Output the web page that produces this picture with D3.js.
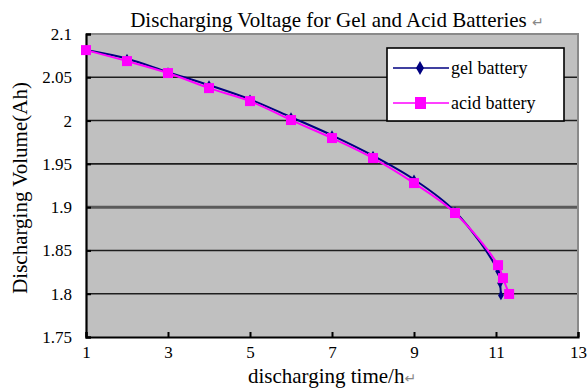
<!DOCTYPE html>
<html>
<head>
<meta charset="utf-8">
<script src="https://cdn.jsdelivr.net/npm/d3@7"></script>
<style>
  body { margin: 0; background: #fff; }
  svg { display: block; }
  svg text { font-family: "Liberation Serif", "Times New Roman", serif; }
</style>
</head>
<body>
<svg id="chart" width="587" height="390"></svg>
<script>
// data
var gelTime = [1, 2, 3, 4, 5, 6, 7, 8, 9, 10, 11.05, 11.1, 11.12];
var gelVolt = [2.0814, 2.0715, 2.056, 2.041, 2.0245, 2.004, 1.983, 1.9595, 1.932, 1.895, 1.826, 1.812, 1.798];
var acidTime = [1, 2, 3, 4, 5, 6, 7, 8, 9, 10, 11.05, 11.17, 11.32];
var acidVolt = [2.0814, 2.0687, 2.0549, 2.0375, 2.0225, 2.0006, 1.9798, 1.9567, 1.9278, 1.8932, 1.833, 1.818, 1.7997];
var xTicks = [1, 3, 5, 7, 9, 11, 13];
var yTicks = [1.75, 1.8, 1.85, 1.9, 1.95, 2, 2.05, 2.1];
var seriesNames = ["gel battery", "acid battery"];

var serif = "'Liberation Serif', 'Times New Roman', serif";
var svg = d3.select("#chart");

var plotL = 86, plotR = 578, plotT = 34, plotB = 337;

var x = d3.scaleLinear().domain([1, 13]).range([plotL, plotR]);
var y = d3.scaleLinear().domain([1.75, 2.1]).range([plotB, plotT]);

// plot area
svg.append("rect")
  .attr("x", plotL).attr("y", plotT)
  .attr("width", plotR - plotL).attr("height", plotB - plotT)
  .style("fill", "#c0c0c0");

// grid lines
svg.append("g").selectAll("line")
  .data(yTicks.filter(function(d) { return d > 1.75 && d < 2.1; }))
  .enter().append("line")
  .attr("x1", plotL).attr("x2", plotR)
  .attr("y1", function(d) { return y(d); })
  .attr("y2", function(d) { return y(d); })
  .style("stroke", function(d) { return Math.abs(d - 1.9) < 1e-6 ? "#5a5a5a" : "#1e1e1e"; })
  .style("stroke-width", function(d) { return Math.abs(d - 1.9) < 1e-6 ? 3 : 1.6; });

// top / right frame (grey)
svg.append("path")
  .attr("d", "M" + plotL + "," + plotT + "H" + plotR + "V" + plotB)
  .style("fill", "none").style("stroke", "#8a8a8a").style("stroke-width", 2);

// axes
var xAxis = d3.axisBottom(x).tickValues(xTicks).tickSize(-5).tickPadding(9).tickFormat(d3.format("d"));
var gx = svg.append("g").attr("transform", "translate(0," + plotB + ")").call(xAxis);
var yAxis = d3.axisLeft(y).tickValues(yTicks).tickSize(-5).tickPadding(14).tickFormat(function(d) { return String(+d.toFixed(2)); });
var gy = svg.append("g").attr("transform", "translate(" + plotL + ",0)").call(yAxis);

[gx, gy].forEach(function(g) {
  g.attr("font-family", serif).attr("font-size", 17);
  g.select(".domain").style("stroke", "#000").style("stroke-width", 2.2);
  g.selectAll(".tick line").style("stroke", "#000").style("stroke-width", 2);
  g.selectAll(".tick text")
    .style("font-family", serif)
    .style("font-size", "17px").style("fill", "#000");
});

// lines
var line = d3.line()
  .x(function(d) { return x(d[0]); })
  .y(function(d) { return y(d[1]); })
  .curve(d3.curveCatmullRom.alpha(0.5));

var gelData = gelTime.map(function(t, i) { return [t, gelVolt[i]]; });
var acidData = acidTime.map(function(t, i) { return [t, acidVolt[i]]; });

svg.append("path").datum(gelData)
  .attr("d", line)
  .style("fill", "none").style("stroke", "#000080").style("stroke-width", 2);

var diamond = d3.symbol().type(d3.symbolDiamond).size(28);
svg.append("g").selectAll("path")
  .data(gelData).enter().append("path")
  .attr("transform", function(d) { return "translate(" + x(d[0]) + "," + y(d[1]) + ")"; })
  .attr("d", diamond)
  .style("fill", "#000080");

svg.append("path").datum(acidData)
  .attr("d", line)
  .style("fill", "none").style("stroke", "#ff00ff").style("stroke-width", 2);

svg.append("g").selectAll("rect")
  .data(acidData).enter().append("rect")
  .attr("x", function(d) { return x(d[0]) - 5; })
  .attr("y", function(d) { return y(d[1]) - 5; })
  .attr("width", 10).attr("height", 10)
  .style("fill", "#ff00ff");

// legend
var legend = svg.append("g").attr("transform", "translate(387,48)");
legend.append("rect")
  .attr("width", 177).attr("height", 73)
  .style("fill", "#fff").style("stroke", "#000").style("stroke-width", 1.6);

var items = legend.selectAll("g.legendg")
  .data(seriesNames).enter().append("g")
  .attr("class", "legendg")
  .attr("transform", function(d, i) { return "translate(0," + (20 + i * 35) + ")"; });

items.append("line")
  .attr("x1", 6).attr("x2", 62)
  .style("stroke", function(d, i) { return i === 0 ? "#000080" : "#ff00ff"; })
  .style("stroke-width", 1.6);

items.filter(function(d, i) { return i === 0; }).append("path")
  .attr("transform", "translate(33,0)")
  .attr("d", d3.symbol().type(d3.symbolDiamond).size(55))
  .style("fill", "#000080");

items.filter(function(d, i) { return i === 1; }).append("rect")
  .attr("x", 28).attr("y", -6).attr("width", 11).attr("height", 12)
  .style("fill", "#ff00ff");

items.append("text")
  .attr("x", 64).attr("y", 6)
  .style("font-family", serif)
  .style("font-size", "18px")
  .text(function(d) { return d; });

// titles
var title = svg.append("text")
  .attr("x", 337).attr("y", 27)
  .style("font-family", serif)
  .style("text-anchor", "middle").style("font-size", "21px");
title.append("tspan").text("Discharging Voltage for Gel and Acid Batteries ");
title.append("tspan").style("fill", "#888").style("font-family", "'DejaVu Sans', sans-serif").style("font-size", "14px").text("↵");

var xl = svg.append("text")
  .attr("x", 332).attr("y", 383)
  .style("font-family", serif)
  .style("text-anchor", "middle").style("font-size", "21px");
xl.append("tspan").text("discharging time/h");
xl.append("tspan").style("fill", "#888").style("font-family", "'DejaVu Sans', sans-serif").style("font-size", "14px").text("↵");

svg.append("text")
  .attr("transform", "translate(27,188) rotate(-90)")
  .style("font-family", serif)
  .style("text-anchor", "middle").style("font-size", "21px")
  .text("Discharging Volume(Ah)");
</script>
</body>
</html>
